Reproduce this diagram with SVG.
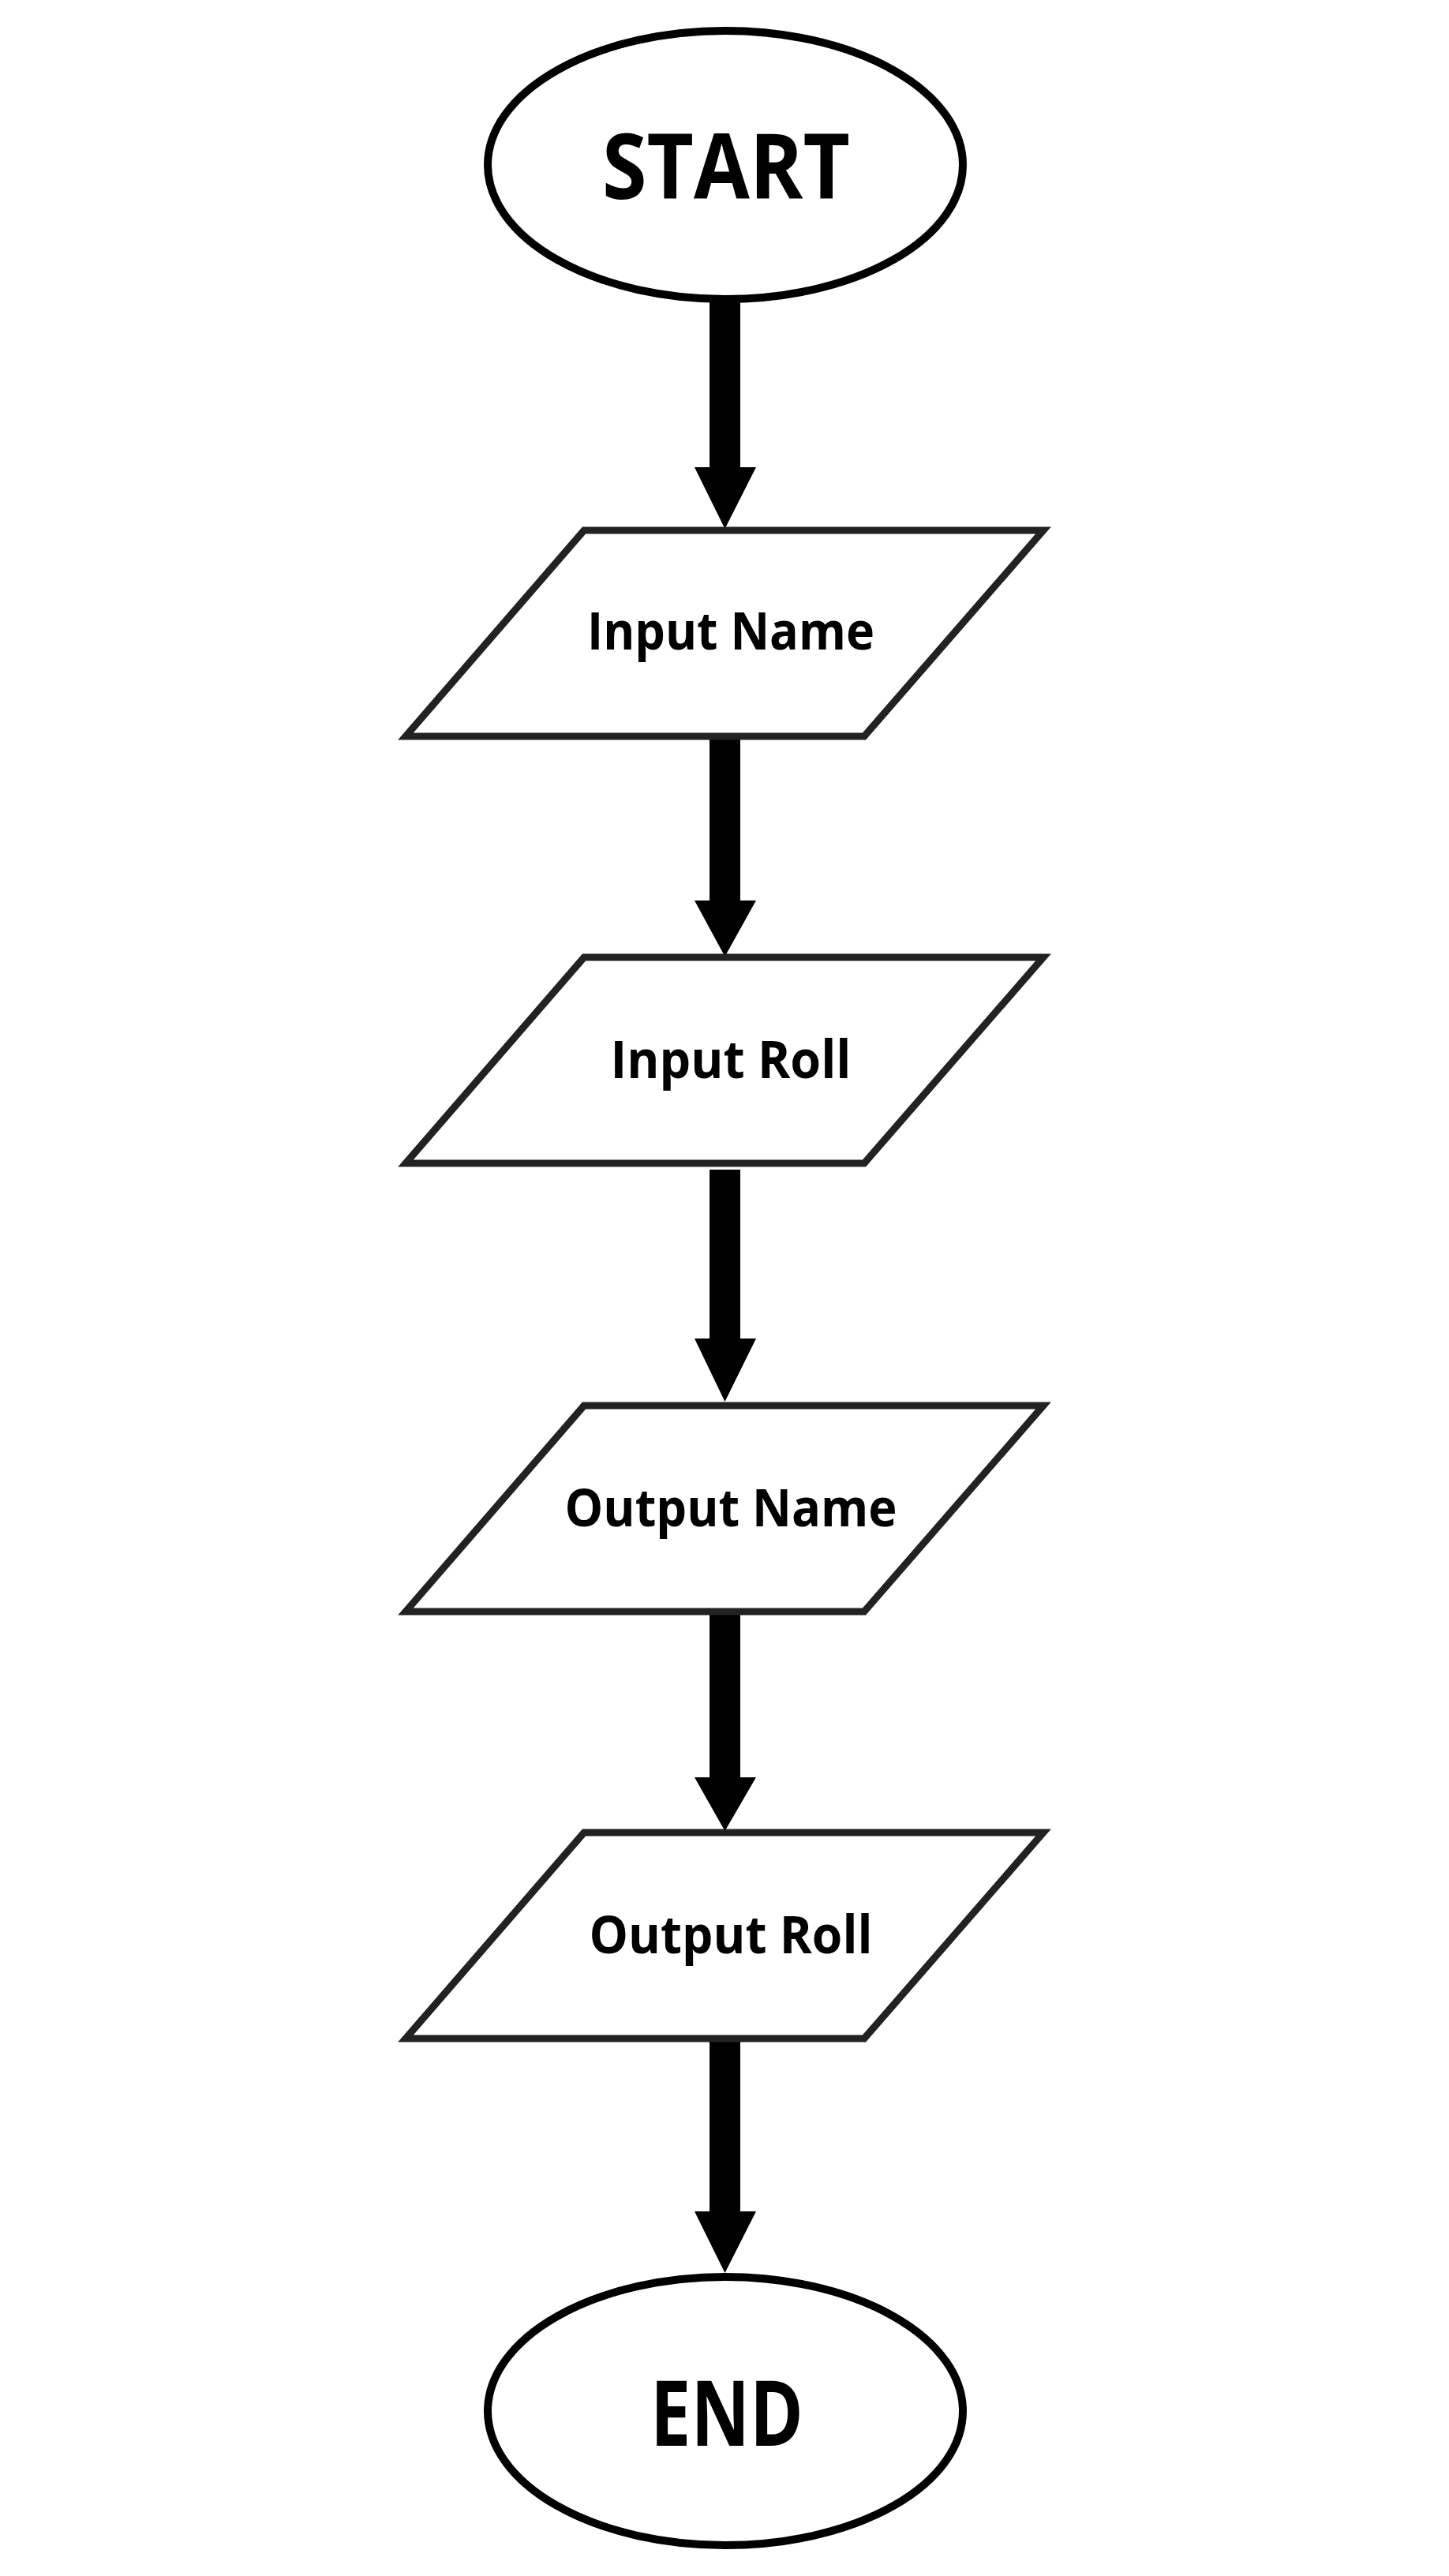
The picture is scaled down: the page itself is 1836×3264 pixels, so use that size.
<svg xmlns="http://www.w3.org/2000/svg" width="1836" height="3264" viewBox="0 0 1836 3264">
<style>
.term{fill:#fff;stroke:#000;stroke-width:10}
.io{fill:#fff;stroke:#222;stroke-width:9;stroke-linejoin:miter}
.big{font-family:"Open Sans","Liberation Sans",sans-serif;font-weight:700;font-size:115px;fill:#000;text-anchor:middle}
.lbl{font-family:"Open Sans","Liberation Sans",sans-serif;font-weight:700;font-size:67px;fill:#000;text-anchor:middle}
.arrow{fill:#000}
</style>
<rect width="1836" height="3264" fill="#fff"/>
<g id="connectors">
<path class="arrow" d="M899,383 H938 V592 H958 L918.5,670 L880,592 H899 Z"/>
<path class="arrow" d="M899,933 H938 V1141 H958 L918.5,1212 L880,1141 H899 Z"/>
<path class="arrow" d="M899,1482 H938 V1696 H958 L918.5,1776 L880,1696 H899 Z"/>
<path class="arrow" d="M899,2042 H938 V2252 H958 L918.5,2320 L880,2252 H899 Z"/>
<path class="arrow" d="M899,2587 H938 V2802 H958 L918.5,2880 L880,2802 H899 Z"/>
</g>
<g id="start">
<ellipse class="term" cx="919" cy="209" rx="301" ry="170"/>
<text class="big" x="920" y="252" textLength="314" lengthAdjust="spacingAndGlyphs">START</text>
</g>
<g id="input-name">
<polygon class="io" points="740,672 1322,672 1095,933 514,933"/>
<text class="lbl" x="926" y="823" textLength="364" lengthAdjust="spacingAndGlyphs">Input Name</text>
</g>
<g id="input-roll">
<polygon class="io" points="740,1213 1322,1213 1095,1474 514,1474"/>
<text class="lbl" x="926" y="1366" textLength="305" lengthAdjust="spacingAndGlyphs">Input Roll</text>
</g>
<g id="output-name">
<polygon class="io" points="740,1781 1322,1781 1095,2042 514,2042"/>
<text class="lbl" x="926" y="1934" textLength="421" lengthAdjust="spacingAndGlyphs">Output Name</text>
</g>
<g id="output-roll">
<polygon class="io" points="740,2322 1322,2322 1095,2583 514,2583"/>
<text class="lbl" x="926" y="2475" textLength="359" lengthAdjust="spacingAndGlyphs">Output Roll</text>
</g>
<g id="end">
<ellipse class="term" cx="919" cy="3055" rx="301" ry="170"/>
<text class="big" x="921" y="3099" textLength="194" lengthAdjust="spacingAndGlyphs">END</text>
</g>
</svg>
